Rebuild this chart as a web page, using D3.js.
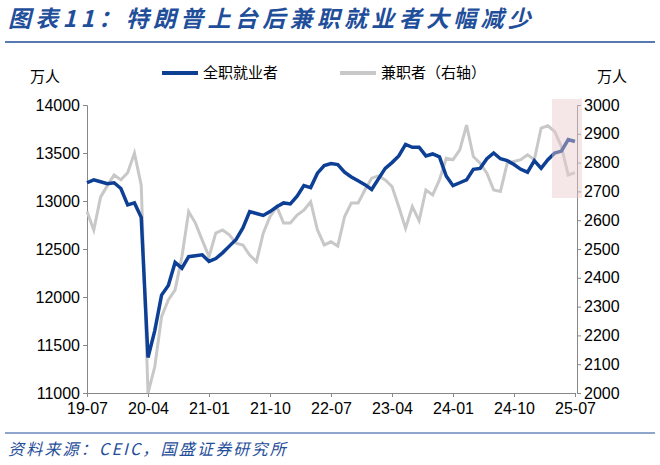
<!DOCTYPE html><html><head><meta charset="utf-8"><script src="https://cdn.jsdelivr.net/npm/d3@7"></script>
<style>body{margin:0;background:#fff}</style></head><body><svg id="c" width="660" height="465"></svg>
<script>
const xTicks=["19-07","20-04","21-01","21-10","22-07","23-04","24-01","24-10","25-07"];
const fullTime=[13190,13220,13200,13180,13190,13130,12960,12980,12830,11370,11650,12020,12120,12360,12300,12420,12430,12440,12370,12400,12460,12530,12600,12720,12890,12870,12850,12890,12940,12980,12970,13050,13160,13140,13290,13370,13390,13380,13300,13250,13210,13170,13120,13230,13340,13400,13470,13590,13560,13560,13470,13490,13460,13260,13160,13190,13220,13330,13340,13440,13500,13440,13420,13380,13330,13300,13420,13340,13430,13500,13520,13640,13620];
const partTime=[2630,2566,2680,2720,2757,2740,2765,2833,2722,2000,2091,2265,2323,2358,2473,2630,2590,2531,2473,2555,2566,2549,2520,2514,2479,2456,2555,2612,2647,2590,2590,2618,2635,2664,2566,2514,2525,2510,2612,2660,2660,2705,2746,2754,2740,2717,2647,2572,2647,2598,2705,2688,2740,2815,2810,2844,2930,2821,2798,2763,2705,2700,2798,2804,2810,2827,2810,2920,2928,2908,2855,2757,2765];
const leftTicks=[11000,11500,12000,12500,13000,13500,14000];
const rightTicks=[2000,2100,2200,2300,2400,2500,2600,2700,2800,2900,3000];
const svg=d3.select("#c"),F="'Noto Sans CJK SC',sans-serif";
const x=d3.scaleLinear().domain([0,72]).range([87,575]);
const yL=d3.scaleLinear().domain([11000,14000]).range([393,105]);
const yR=d3.scaleLinear().domain([2000,3000]).range([393,105]);
svg.append("text").attr("x",8).attr("y",27).attr("font-family",F).attr("font-size",23).attr("letter-spacing",4.3).attr("font-style","italic").attr("font-weight","bold").attr("fill","#1f4e9a").text("图表11：特朗普上台后兼职就业者大幅减少");
svg.append("line").attr("x1",5).attr("x2",655).attr("y1",42).attr("y2",42).attr("stroke","#1f4e9a").attr("stroke-width",1.5);
svg.append("line").attr("x1",5).attr("x2",655).attr("y1",433).attr("y2",433).attr("stroke","#1f4e9a").attr("stroke-width",1);
svg.append("text").attr("x",8).attr("y",455).attr("font-family",F).attr("font-size",16).attr("letter-spacing",2.2).attr("font-style","italic").attr("fill","#1f4e9a").text("资料来源：CEIC，国盛证券研究所");
const gl=svg.append("g").attr("transform","translate(87,0)").call(d3.axisLeft(yL).tickValues(leftTicks).tickFormat(d3.format("d")).tickSize(4));
const gr=svg.append("g").attr("transform","translate(577,0)").call(d3.axisRight(yR).tickValues(rightTicks).tickFormat(d3.format("d")).tickSize(4));
const gx=svg.append("g").attr("transform","translate(0,393)").call(d3.axisBottom(x).tickValues(d3.range(0,73,9)).tickFormat((d,i)=>xTicks[i]).tickSize(4));
[gl,gr,gx].forEach(g=>{g.selectAll("text").attr("font-size",16).attr("font-family","'Liberation Sans',sans-serif").attr("fill","#000");g.selectAll("line,path").attr("stroke","#888");});
gx.selectAll("text").attr("dy","0.9em");
svg.append("text").attr("x",30).attr("y",82).attr("font-family",F).attr("font-size",15).text("万人");
svg.append("text").attr("x",597).attr("y",82).attr("font-family",F).attr("font-size",15).text("万人");
svg.append("path").datum(partTime).attr("fill","none").attr("stroke","#c8c8c8").attr("stroke-width",3).attr("d",d3.line().x((d,i)=>x(i)).y(d=>yR(d)));
svg.append("path").datum(fullTime).attr("fill","none").attr("stroke","#0d3f94").attr("stroke-width",3.5).attr("d",d3.line().x((d,i)=>x(i)).y(d=>yL(d)));
svg.append("rect").attr("x",552).attr("y",99).attr("width",30).attr("height",99).attr("fill","#e8c9c9").attr("opacity",0.45);
const lg=svg.append("g").attr("font-family",F).attr("font-size",15);
lg.append("line").attr("x1",162).attr("x2",198).attr("y1",73).attr("y2",73).attr("stroke","#0d3f94").attr("stroke-width",4);
lg.append("text").attr("x",203).attr("y",78).text("全职就业者");
lg.append("line").attr("x1",340).attr("x2",376).attr("y1",73).attr("y2",73).attr("stroke","#c8c8c8").attr("stroke-width",4);
lg.append("text").attr("x",381).attr("y",78).text("兼职者（右轴）");
</script></body></html>
